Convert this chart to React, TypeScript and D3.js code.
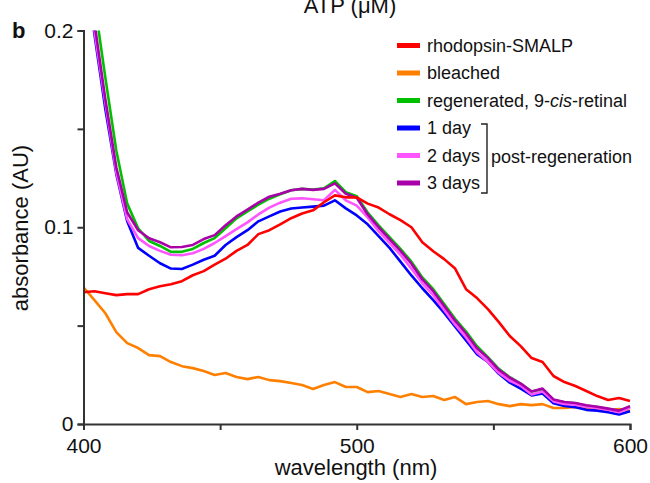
import React, { useEffect, useRef } from "react";
import * as d3 from "d3";

const wavelengths: number[] = d3.range(400, 601, 4);

const rhodopsin = [0.067,0.0675,0.0665,0.0655,0.066,0.066,0.0685,0.070,0.071,0.0726,
  0.0756,0.0777,0.081,0.084,0.088,0.091,0.0965,0.0985,0.1015,0.1046,
  0.107,0.1086,0.1127,0.1162,0.1152,0.1152,0.112,0.110,0.1066,0.1036,
  0.100,0.0924,0.0878,0.0838,0.079,0.0685,0.064,0.0584,0.0518,0.0447,
  0.0396,0.0335,0.0315,0.0244,0.0213,0.0193,0.0168,0.0142,0.0122,0.0132,0.0117];

const bleached = [0.0695,0.063,0.0563,0.0467,0.0411,0.0386,0.035,0.0345,0.0315,0.0294,
  0.0284,0.0269,0.0249,0.0259,0.0239,0.0228,0.0239,0.0223,0.0218,0.0208,
  0.0198,0.0178,0.0198,0.0213,0.0188,0.0188,0.0162,0.0168,0.0152,0.0137,
  0.0152,0.0137,0.0142,0.0122,0.0137,0.0101,0.0112,0.0117,0.0101,0.0091,
  0.0101,0.0096,0.0101,0.0081,0.0081,0.0086,0.0081,0.0076,0.0071,0.0076,0.0066];

const regenerated = [0.26,0.215,0.176,0.139,0.112,0.0995,0.093,0.0905,0.0875,0.0875,
  0.089,0.092,0.0945,0.0995,0.1045,0.108,0.1115,0.1145,0.1168,0.1188,
  0.1195,0.1192,0.1198,0.1235,0.1178,0.1158,0.1075,0.101,0.095,0.089,
  0.0825,0.0745,0.0685,0.061,0.0535,0.047,0.0395,0.034,0.028,0.0238,
  0.0205,0.0165,0.0175,0.0122,0.011,0.0105,0.0092,0.0086,0.0076,0.0066,0.0088];

const day1 = [0.24,0.198,0.16,0.127,0.103,0.0895,0.0855,0.0817,0.079,0.0788,
  0.081,0.0835,0.0855,0.091,0.095,0.0985,0.103,0.1055,0.108,0.1095,
  0.110,0.1105,0.111,0.1137,0.1096,0.106,0.1015,0.0955,0.0895,0.0825,
  0.0755,0.069,0.063,0.0565,0.0495,0.0425,0.0355,0.0315,0.0255,0.021,
  0.018,0.0145,0.0155,0.0105,0.0092,0.0085,0.0072,0.0068,0.006,0.0048,0.0065];

const day2 = [0.24,0.2,0.163,0.128,0.104,0.0945,0.0905,0.088,0.086,0.0858,
  0.0868,0.089,0.092,0.0955,0.099,0.1025,0.1065,0.110,0.1125,0.1145,
  0.1147,0.1142,0.1137,0.119,0.1137,0.111,0.105,0.098,0.092,0.086,
  0.079,0.0715,0.0655,0.058,0.0505,0.044,0.0365,0.0315,0.026,0.022,
  0.0195,0.015,0.0165,0.0115,0.0102,0.0098,0.0088,0.0082,0.0072,0.006,0.0083];

const day3 = [0.245,0.204,0.165,0.1305,0.1075,0.0985,0.0944,0.0924,0.0898,0.090,
  0.091,0.094,0.096,0.101,0.1055,0.109,0.1125,0.1155,0.117,0.1188,
  0.1195,0.119,0.1195,0.1223,0.117,0.115,0.1065,0.100,0.094,0.088,
  0.0815,0.0735,0.0675,0.060,0.0525,0.046,0.0385,0.0335,0.0275,0.0235,
  0.0205,0.0165,0.018,0.0125,0.0112,0.0107,0.0095,0.0088,0.0078,0.0068,0.0091];

const seriesNames = ["rhodopsin-SMALP", "bleached", "regenerated, 9-cis-retinal", "1 day", "2 days", "3 days"];
const seriesColors = ["#ff0000", "#ff8000", "#00c000", "#0000ff", "#ff55ff", "#aa00aa"];
const seriesValues = [rhodopsin, bleached, regenerated, day1, day2, day3];
const drawOrder = [1, 2, 3, 4, 5, 0];

const xTicks = [400, 450, 500, 550, 600];
const xTickLabels = ["400", "", "500", "", "600"];
const yTicks = [0, 0.05, 0.1, 0.15, 0.2];
const yTickLabels = ["0", "", "0.1", "", "0.2"];

const FONT = "'Liberation Sans', Arial, Helvetica, sans-serif";

export default function App() {
  const ref = useRef<SVGSVGElement | null>(null);

  useEffect(() => {
    const svg = d3.select(ref.current);
    svg.selectAll("*").remove();

    const x = d3.scaleLinear().domain([400, 600]).range([83.5, 630]);
    const y = d3.scaleLinear().domain([0, 0.2]).range([424, 30.5]);

    svg.append("defs").append("clipPath").attr("id", "plotclip")
      .append("rect").attr("x", 83.5).attr("y", 30.5).attr("width", 560).attr("height", 400);

    // top partial title from adjacent panel
    svg.append("text").attr("x", 350).attr("y", 13).attr("text-anchor", "middle")
      .attr("font-family", FONT).attr("font-size", 22).attr("fill", "#111").text("ATP (μM)");

    svg.append("text").attr("x", 12).attr("y", 38).attr("font-family", FONT)
      .attr("font-size", 22).attr("font-weight", "bold").attr("fill", "#111").text("b");

    // lines
    const line = d3.line<number>()
      .x((_, i) => x(wavelengths[i]))
      .y((d) => y(d));
    const g = svg.append("g").attr("clip-path", "url(#plotclip)");
    drawOrder.forEach((k) => {
      g.append("path").datum(seriesValues[k])
        .attr("d", line as any)
        .attr("fill", "none")
        .attr("stroke", seriesColors[k])
        .attr("stroke-width", 2.6)
        .attr("stroke-linejoin", "round");
    });

    // axes
    const xAxis = d3.axisBottom(x).tickValues(xTicks)
      .tickFormat((_, i) => xTickLabels[i]).tickSizeOuter(0).tickSize(6).tickPadding(8);
    const gx = svg.append("g").attr("transform", "translate(0,424)").call(xAxis as any);
    const yAxis = d3.axisLeft(y).tickValues(yTicks)
      .tickFormat((_, i) => yTickLabels[i]).tickSizeOuter(0).tickSize(6).tickPadding(4);
    const gy = svg.append("g").attr("transform", "translate(83.5,0)").call(yAxis as any);

    [gx, gy].forEach((ga) => {
      ga.select(".domain").attr("stroke", "#333").attr("stroke-width", 2);
      ga.selectAll(".tick line").attr("stroke", "#333").attr("stroke-width", 2);
      ga.selectAll(".tick text").attr("font-family", FONT).attr("font-size", 21).attr("fill", "#111");
    });

    svg.append("text").attr("x", 356).attr("y", 475).attr("text-anchor", "middle")
      .attr("font-family", FONT).attr("font-size", 22).attr("fill", "#111").text("wavelength (nm)");
    svg.append("text").attr("transform", "translate(28,228) rotate(-90)").attr("text-anchor", "middle")
      .attr("font-family", FONT).attr("font-size", 22).attr("fill", "#111").text("absorbance (AU)");

    // legend
    const legendY = [45.5, 73, 100.5, 128, 155.5, 183];
    const lg = svg.append("g");
    seriesNames.forEach((name, i) => {
      lg.append("rect").attr("x", 397).attr("y", legendY[i] - 2.5).attr("width", 23).attr("height", 5)
        .attr("fill", seriesColors[i]);
      const t = lg.append("text").attr("x", 427).attr("y", legendY[i]).attr("dy", "0.35em")
        .attr("font-family", FONT).attr("font-size", 18).attr("fill", "#111");
      if (name.includes("cis")) {
        t.append("tspan").text("regenerated, 9-");
        t.append("tspan").attr("font-style", "italic").text("cis");
        t.append("tspan").text("-retinal");
      } else {
        t.text(name);
      }
    });
    lg.append("path").attr("d", "M481,124H487V193H481").attr("fill", "none")
      .attr("stroke", "#222").attr("stroke-width", 1.4);
    lg.append("text").attr("x", 491).attr("y", 157).attr("dy", "0.35em")
      .attr("font-family", FONT).attr("font-size", 18).attr("fill", "#111").text("post-regeneration");
  }, []);

  return (
    <svg ref={ref} width={650} height={483}
      style={{ position: "absolute", left: 0, top: 0, background: "#fff" }} />
  );
}
